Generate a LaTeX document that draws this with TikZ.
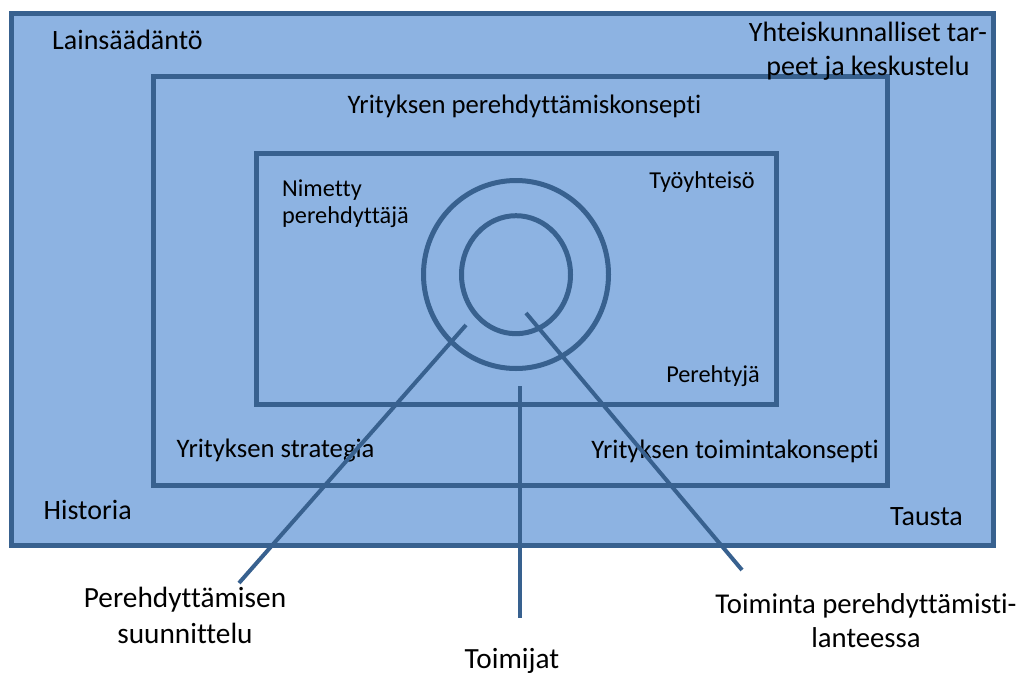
\documentclass[tikz,border=0pt]{standalone}
\usepackage{fontspec}
\setmainfont{Carlito}[Ligatures=NoCommon]
\usetikzlibrary{shapes.geometric}
\definecolor{panelfill}{HTML}{8DB3E2}
\definecolor{panelline}{HTML}{38618F}
\begin{document}
\begin{tikzpicture}[x=1pt,y=-1pt,
  frame/.style={draw=panelline, fill=panelfill, line width=5pt, rectangle, inner sep=0pt},
  ring/.style={draw=panelline, fill=panelfill, line width=5pt, ellipse, inner sep=0pt},
  leader/.style={draw=panelline, line width=4pt},
  outer/.style={font=\fontsize{28}{34}\selectfont, inner sep=0pt},
  big/.style={font=\fontsize{26.7}{34.5}\selectfont, inner sep=0pt},
  small/.style={font=\fontsize{24.3}{27.7}\selectfont, inner sep=0pt},
  caption/.style={font=\fontsize{29.3}{36}\selectfont, inner sep=0pt}]
\useasboundingbox (0,0) rectangle (1028,675);

% nested frames: background, company, work community
\node[frame, minimum width=982, minimum height=531.5] (context) at (502,279.25) {};
\node[frame, minimum width=734, minimum height=409.5] (company) at (520,280.75) {};
\node[frame, minimum width=520, minimum height=251.5] (workplace) at (516,278.75) {};

% the rings around the newcomer
\node[ring, minimum width=185, minimum height=188] (outerring) at (516,274.5) {};
\node[ring, minimum width=109, minimum height=118] (innerring) at (516,274.7) {};

% labels of the background frame
\node[outer, anchor=base west] (law) at (52,49) {Lainsäädäntö};
\node[outer, align=center, anchor=base] (needs) at (868,75) {Yhteiskunnalliset tar-\\peet ja keskustelu};
\node[outer, anchor=base west] (history) at (43.5,519) {Historia};
\node[outer, anchor=base east] (background) at (963,525) {Tausta};

% labels of the company frame
\node[big, anchor=base] (concept) at (524.5,113) {Yrityksen perehdyttämiskonsepti};
\node[big, anchor=base west] (strategy) at (176.5,457) {Yrityksen strategia};
\node[big, anchor=base east] (operation) at (879,458) {Yrityksen toimintakonsepti};

% labels of the work community frame
\node[small, align=left, anchor=base west] (mentor) at (282,223.7) {Nimetty\\perehdyttäjä};
\node[small, anchor=base east] (community) at (755,188) {Työyhteisö};
\node[small, anchor=base east] (newcomer) at (760,382) {Perehtyjä};

% labels below the frames
\node[caption, align=center, anchor=base] (planning) at (185,643) {Perehdyttämisen\\suunnittelu};
\node[caption, anchor=base] (actors) at (512,668) {Toimijat};
\node[caption, font=\fontsize{28.7}{34}\selectfont, align=center, anchor=base] (action) at (866,647) {Toiminta perehdyttämisti-\\lanteessa};

% leader lines from the rings to the labels below
\coordinate (planstart) at (466,325);
\coordinate (planend) at (239,583);
\coordinate (actstart) at (520,386);
\coordinate (actend) at (520,618);
\coordinate (opstart) at (526,313);
\coordinate (opend) at (742,570);
\draw[leader] (planstart) -- (planend);
\draw[leader] (actstart) -- (actend);
\draw[leader] (opstart) -- (opend);
\end{tikzpicture}
\end{document}
